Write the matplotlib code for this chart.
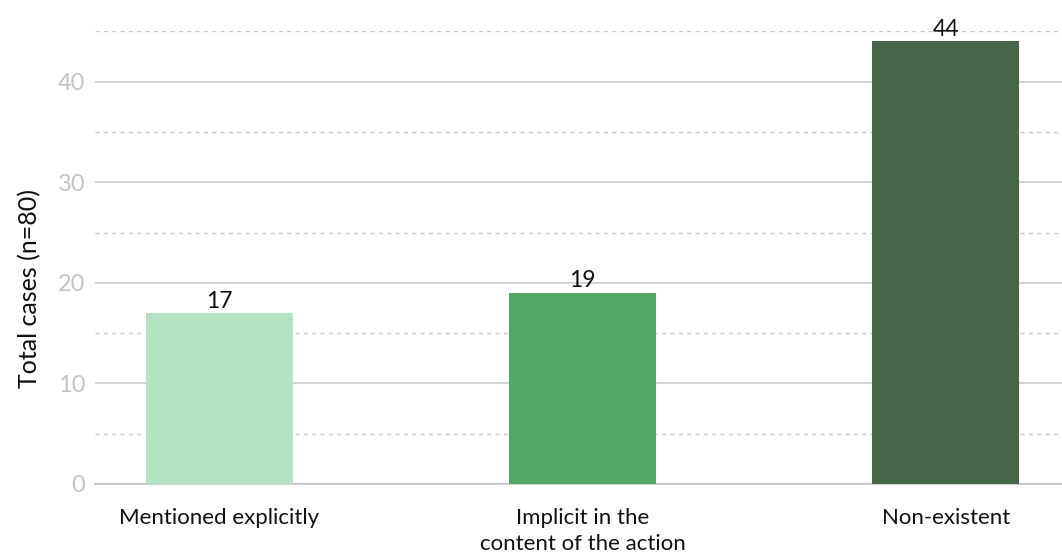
import matplotlib
matplotlib.use("Agg")
import matplotlib.pyplot as plt
from matplotlib.ticker import MultipleLocator

plt.rcParams["font.family"] = ["Lato", "DejaVu Sans"]

# Data
categories = ["Mentioned explicitly", "Implicit in the\ncontent of the action", "Non-existent"]
values = [17, 19, 44]
colors = ["#b4e3c3", "#50a864", "#46664a"]

fig = plt.figure(figsize=(10.62, 5.54), dpi=100)
ax = fig.add_axes([95 / 1062, 70 / 554, 1 - 95 / 1062, (484 - 31.4) / 554])

x = list(range(len(categories)))
bars = ax.bar(x, values, width=0.405, color=colors, zorder=3)
for rect, v in zip(bars, values):
    ax.text(rect.get_x() + rect.get_width() / 2, v + 0.15, str(v),
            ha="center", va="bottom", fontsize=16.5, color="#111111",
            zorder=4, clip_on=False)

ax.set_xlim(-0.343, 2.32)
ax.set_ylim(0, 45)
ax.yaxis.set_major_locator(MultipleLocator(10))
ax.yaxis.set_minor_locator(MultipleLocator(5))
ax.grid(axis="y", which="major", color="#c8c8cc", linewidth=1.1, zorder=0)
ax.grid(axis="y", which="minor", color="#c8c8cc", linewidth=1.0,
        linestyle=(0, (3, 3)), zorder=0)

for side in ["top", "right", "left"]:
    ax.spines[side].set_visible(False)
ax.spines["bottom"].set_color("#c0c0c4")
ax.spines["bottom"].set_linewidth(1.1)

ax.set_xticks(x)
ax.set_xticklabels(categories, fontsize=16, color="#111111", linespacing=1.4)
ax.tick_params(axis="x", length=0, pad=17)
ax.tick_params(axis="y", which="both", length=0, labelsize=17,
               labelcolor="#c4c4c4", pad=7)

ax.set_ylabel("Total cases (n=80)", fontsize=18, color="#111111")
ax.yaxis.set_label_coords(-0.056, 0.433)

fig.savefig("out.png", dpi=100)
